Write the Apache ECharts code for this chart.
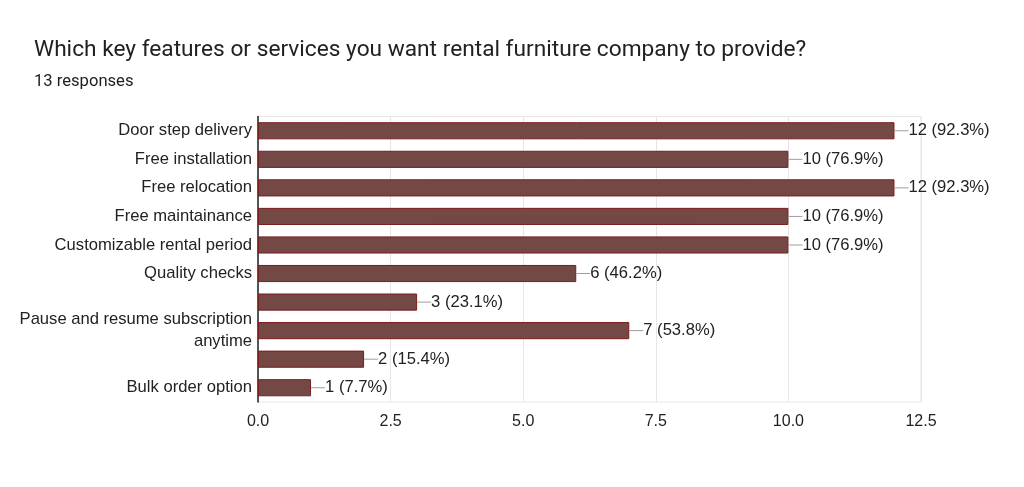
<!DOCTYPE html>
<html>

<head>
  <meta charset="utf-8">
  <title>Rental furniture features</title>
  <script src="https://cdn.jsdelivr.net/npm/echarts@6/dist/echarts.min.js"></script>
  <style>
    html, body {
      margin: 0;
      padding: 0;
      background: #ffffff;
    }

    #main {
      width: 1024px;
      height: 487px;
    }
  </style>
</head>

<body>
  <div id="main"></div>
  <script>
    // data
    var categories = [
      'Door step delivery',
      'Free installation',
      'Free relocation',
      'Free maintainance',
      'Customizable rental period',
      'Quality checks',
      '',
      'Pause and resume subscription\nanytime',
      '',
      'Bulk order option'
    ];
    var counts = [12, 10, 12, 10, 10, 6, 3, 7, 2, 1];
    var percents = ['92.3', '76.9', '92.3', '76.9', '76.9', '46.2', '23.1', '53.8', '15.4', '7.7'];
    var xTicks = [0, 2.5, 5, 7.5, 10, 12.5];
    var totalResponses = 13;

    var chart = echarts.init(document.getElementById('main'));

    var option = {
      animation: false,
      title: {
        text: 'Which key features or services you want rental furniture company to provide?',
        subtext: totalResponses + ' responses',
        left: 29,
        top: 34,
        itemGap: 11,
        textStyle: {
          fontFamily: 'Roboto',
          fontSize: 22.7,
          fontWeight: 'normal',
          color: '#202124'
        },
        subtextStyle: {
          fontFamily: 'Roboto',
          fontSize: 16.6,
          color: '#202124'
        }
      },
      grid: {
        left: 258,
        right: 103,
        top: 116.5,
        bottom: 85,
        show: true,
        borderColor: '#e6e6e6',
        borderWidth: 1
      },
      xAxis: {
        type: 'value',
        min: xTicks[0],
        max: xTicks[xTicks.length - 1],
        interval: 2.5,
        axisLine: { show: false },
        axisTick: { show: false },
        splitLine: { lineStyle: { color: '#e6e6e6' } },
        axisLabel: {
          margin: 12,
          fontFamily: 'Liberation Sans',
          fontSize: 16,
          color: '#222',
          formatter: function (v) { return v.toFixed(1); }
        }
      },
      yAxis: {
        type: 'category',
        inverse: true,
        data: categories,
        axisLine: { lineStyle: { color: '#222', width: 1.5 } },
        axisTick: { show: false },
        axisLabel: {
          margin: 6,
          fontFamily: 'Liberation Sans',
          fontSize: 16.6,
          lineHeight: 22,
          color: '#222'
        }
      },
      series: [{
        type: 'bar',
        data: counts,
        barWidth: '60%',
        itemStyle: {
          color: '#744945',
          borderColor: '#7a1d1d',
          borderWidth: 1
        },
        label: {
          show: true,
          position: 'right',
          distance: 0,
          formatter: function (p) {
            return '{ln|}' + p.value + ' (' + percents[p.dataIndex] + '%)';
          },
          fontFamily: 'Liberation Sans',
          fontSize: 16.6,
          color: '#222',
          rich: {
            ln: {
              width: 14,
              height: 1,
              backgroundColor: '#9e9e9e',
              verticalAlign: 'middle'
            }
          }
        }
      }]
    };

    chart.setOption(option);
  </script>
</body>

</html>
